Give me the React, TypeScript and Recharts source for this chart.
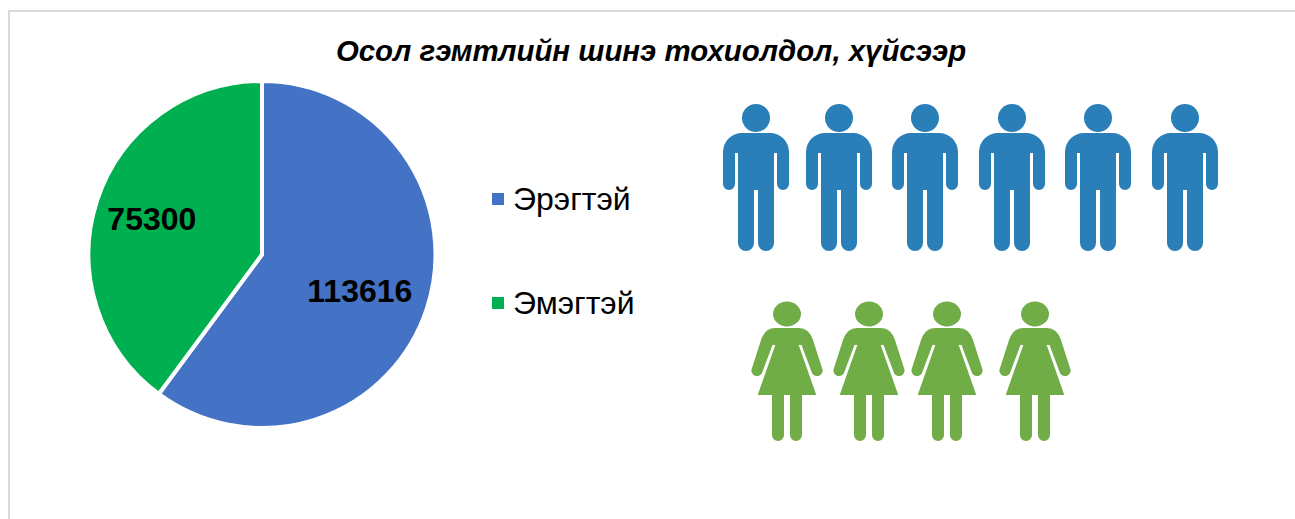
import { PieChart, Pie, Cell, Legend } from 'recharts'

const TITLE = 'Осол гэмтлийн шинэ тохиолдол, хүйсээр'
const CATEGORIES = ['Эрэгтэй', 'Эмэгтэй']
const VALUES = [113616, 75300]
const COLORS = ['#4472C4', '#00B050']
const LABEL_RADIUS = [103, 116]
const LABEL_SHIFT_Y = [4, 1]

const MAN_X = [756, 839, 925, 1012, 1098, 1185]
const WOMAN_X = [787, 869, 947, 1035]

const MAN_PATH =
  'M-14 28H14A19 19 0 0 1 33 47V79A6 6 0 0 1 21 79V48H18V138A8 8 0 0 1 2 138V85H-2V138A8 8 0 0 1 -18 138V48H-21V79A6 6 0 0 1 -33 79V47A19 19 0 0 1 -14 28Z'
const WOMAN_PATH =
  'M-12 26H12Q22 26 26 38L35 66A5.5 5.5 0 0 1 25 71L14.5 43H11.7L29.3 93H15V133A6 6 0 0 1 3 133V93H-3V133A6 6 0 0 1 -15 133V93H-29.3L-11.7 43H-14.5L-25 71A5.5 5.5 0 0 1 -35 66L-26 38Q-22 26 -12 26Z'

const data = CATEGORIES.map((name, i) => ({ name, value: VALUES[i] }))

const RADIAN = Math.PI / 180

const renderLabel = (props: any) => {
  const { cx, cy, midAngle, value, index } = props
  const r = LABEL_RADIUS[index]
  return (
    <text
      x={cx + r * Math.cos(-midAngle * RADIAN)}
      y={cy + r * Math.sin(-midAngle * RADIAN) + LABEL_SHIFT_Y[index]}
      textAnchor='middle'
      dominantBaseline='central'
      fontSize={32}
      fontWeight='bold'
      fill='#000'
    >
      {value}
    </text>
  )
}

const renderLegend = () => (
  <div>
    {CATEGORIES.map((name, i) => (
      <div
        key={name}
        style={{
          position: 'absolute',
          left: 0,
          top: i * 104,
          height: 40,
          display: 'flex',
          alignItems: 'center',
          whiteSpace: 'nowrap',
        }}
      >
        <span
          style={{
            width: 12,
            height: 12,
            marginRight: 9,
            background: COLORS[i],
            display: 'inline-block',
          }}
        />
        <span style={{ fontSize: 32, color: '#000' }}>{name}</span>
      </div>
    ))}
  </div>
)

export default function App() {
  return (
    <div
      style={{
        position: 'absolute',
        left: 0,
        top: 0,
        width: 1295,
        height: 519,
        background: '#fff',
        fontFamily: '"Liberation Sans", Arial, sans-serif',
        overflow: 'hidden',
      }}
    >
      <div
        style={{
          position: 'absolute',
          left: 8,
          top: 10,
          width: 1500,
          height: 600,
          border: '2px solid #d9d9d9',
        }}
      />
      <div
        style={{
          position: 'absolute',
          left: 0,
          width: 1302,
          top: 34,
          textAlign: 'center',
          fontSize: 29.4,
          fontWeight: 'bold',
          fontStyle: 'italic',
          color: '#000',
        }}
      >
        {TITLE}
      </div>
      <div style={{ position: 'absolute', left: 0, top: 0 }}>
        <PieChart width={700} height={519} margin={{ top: 0, right: 0, bottom: 0, left: 0 }}>
          <Pie
            data={data}
            dataKey='value'
            cx={262}
            cy={254.5}
            innerRadius={0}
            outerRadius={173.5}
            startAngle={90}
            endAngle={-270}
            stroke='#fff'
            strokeWidth={4}
            label={renderLabel}
            labelLine={false}
            isAnimationActive={false}
          >
            {data.map((entry, index) => (
              <Cell key={`cell-${index}`} fill={COLORS[index]} />
            ))}
          </Pie>
          <Legend
            content={renderLegend}
            wrapperStyle={{ position: 'absolute', left: 492, top: 179, width: 200 }}
          />
        </PieChart>
      </div>
      <svg
        width={1295}
        height={519}
        style={{ position: 'absolute', left: 0, top: 0, pointerEvents: 'none' }}
      >
        {MAN_X.map((x) => (
          <g key={x} transform={`translate(${x} 105)`} fill='#2A7FB8'>
            <circle cx={0} cy={13} r={14} />
            <path d={MAN_PATH} />
          </g>
        ))}
        {WOMAN_X.map((x) => (
          <g key={x} transform={`translate(${x} 302)`} fill='#70AD47'>
            <ellipse cx={0} cy={12} rx={14} ry={12.5} />
            <path d={WOMAN_PATH} />
          </g>
        ))}
      </svg>
    </div>
  )
}
